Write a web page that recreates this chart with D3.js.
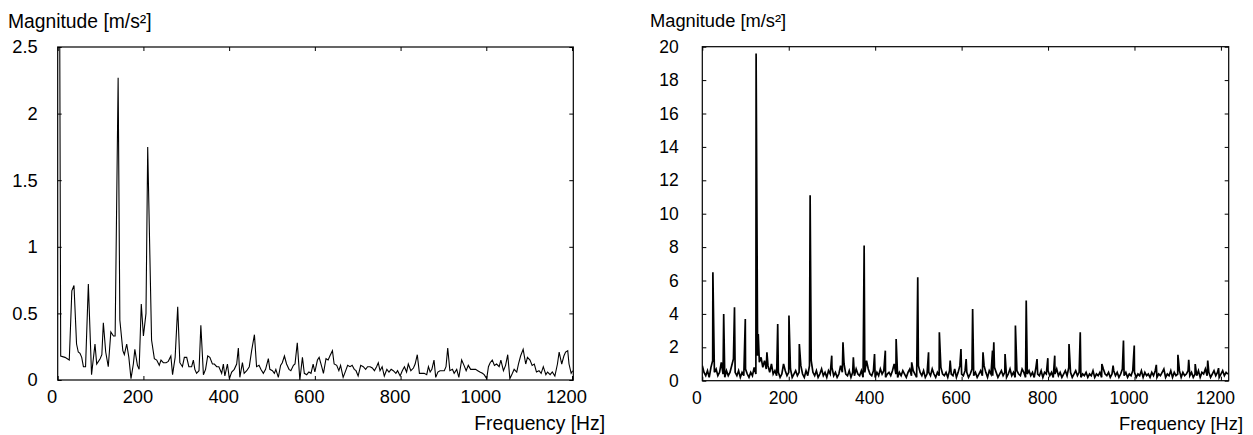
<!DOCTYPE html>
<html>
<head>
<meta charset="utf-8">
<script src="https://cdn.jsdelivr.net/npm/d3@7"></script>
<style>
  body { margin: 0; background: #fff; }
  svg { display: block; }
</style>
</head>
<body>
<div id="chart"></div>
<script>
// spectrum 1 (coarse, ~5 Hz steps): frequency [Hz] and magnitude [m/s²]
const leftFreq = [0, 4, 7, 17, 27, 33, 38, 44, 48, 52, 56, 60, 65, 71.5, 79, 87, 91, 99, 103, 106.5, 112, 118, 124, 130, 134, 141, 145, 152, 155.5, 161, 166, 171, 176.5, 180, 186, 190, 195, 200, 206, 210, 219, 225.5, 231, 237, 241, 246.5, 253, 258, 264, 268, 274, 280, 285, 291, 295.5, 301, 306, 312.5, 316.5, 320, 324, 329.7, 334, 340, 345, 350, 355, 361, 365.5, 371, 376, 382.6, 386.5, 390, 396, 400.5, 406, 412, 417.6, 421.5, 425, 431, 435, 441, 447, 452.5, 459, 464, 469.7, 474, 479.8, 485, 491.5, 495, 501, 505.5, 509, 514.8, 520, 524, 529, 534, 539.7, 544, 550, 553.7, 559, 565, 571, 575.4, 581, 586, 591, 596, 600, 606, 610, 616, 620, 626, 631, 635, 641, 645, 651, 656, 660, 666, 672, 676.5, 682, 687, 692, 696, 701, 707, 713, 718.5, 723, 729, 734, 739, 744, 748, 752, 757, 762, 768, 773, 778, 783, 789, 793, 799, 804, 809, 814, 818, 824, 830, 834, 839, 844, 849, 855, 861, 865, 869, 873, 878, 882, 887, 892, 897, 902, 906, 910, 915, 921, 925, 931, 936, 942.5, 948, 953, 958, 963.5, 970, 975, 980, 985, 991, 995, 1001, 1005, 1009, 1014, 1019, 1024, 1030, 1034, 1040, 1045, 1050, 1055, 1061, 1065, 1071, 1075, 1080, 1086, 1092, 1096, 1102, 1107, 1112, 1117, 1123, 1128, 1133, 1139, 1143, 1149, 1154, 1160, 1166, 1170, 1176, 1181, 1185, 1190, 1193, 1198, 1201.5];
const leftMag = [2.9, 3.4, 0.18, 0.17, 0.15, 0.67, 0.71, 0.27, 0.21, 0.2, 0.17, 0.1, 0.1, 0.72, 0.04, 0.27, 0.12, 0.16, 0.19, 0.43, 0.21, 0.1, 0.36, 0.33, 0.33, 2.27, 0.45, 0.22, 0.19, 0.27, 0.17, 0.01, 0.12, 0.23, 0.11, 0.08, 0.57, 0.33, 0.5, 1.75, 0.3, 0.16, 0.15, 0.11, 0.15, 0.13, 0.13, 0.14, 0.18, 0.04, 0.17, 0.55, 0.13, 0.1, 0.17, 0.17, 0.1, 0.1, 0.15, 0.08, 0.05, 0.07, 0.41, 0.04, 0.08, 0.18, 0.17, 0.12, 0.12, 0.1, 0.1, 0.05, 0.12, 0.03, 0.12, 0.01, 0.06, 0.08, 0.12, 0.24, 0.02, 0.13, 0.05, 0.07, 0.1, 0.22, 0.34, 0.1, 0.11, 0.08, 0.05, 0.08, 0.16, 0.08, 0.07, 0.05, 0.08, 0.02, 0.11, 0.13, 0.18, 0.12, 0.08, 0.07, 0.11, 0.12, 0.28, 0, 0.17, 0.05, 0.04, 0.06, 0.05, 0.12, 0.06, 0.15, 0.17, 0.1, 0.05, 0.16, 0.15, 0.18, 0.22, 0.12, 0.11, 0.07, 0.11, 0.02, 0.07, 0.11, 0.1, 0.11, 0.08, 0.07, 0.03, 0.11, 0.1, 0.08, 0.1, 0.1, 0.09, 0.07, 0.1, 0.13, 0.07, 0.1, 0.03, 0.08, 0.06, 0.08, 0.07, 0.05, 0.07, 0.03, 0.07, 0.1, 0.06, 0.12, 0.07, 0.09, 0.12, 0.19, 0.05, 0.05, 0.05, 0.04, 0.1, 0.06, 0.08, 0.15, 0.02, 0.06, 0.07, 0.07, 0.07, 0.1, 0.24, 0.07, 0.08, 0.05, 0.08, 0.02, 0.15, 0.11, 0.07, 0.11, 0.08, 0.08, 0.08, 0.07, 0.06, 0.05, 0.04, 0.01, 0.1, 0.13, 0.15, 0.11, 0.12, 0.1, 0.15, 0.07, 0.11, 0.19, 0.01, 0.05, 0.08, 0.06, 0.12, 0.18, 0.23, 0.12, 0.17, 0.15, 0.11, 0.12, 0.06, 0.07, 0.05, 0.1, 0.04, 0.06, 0.04, 0.06, 0.03, 0.12, 0.21, 0.12, 0.18, 0.21, 0.22, 0.12, 0.05, 0.07];

// spectrum 2 (fine): noise floor every 4 Hz from 0 Hz, plus the harmonic peaks
const rightFloorStep = 4;
const rightFloor = [
  0.9,0.5,0.3,0.6,0.2,0.8,1.2,0.5,0.7,0.3,0.5,1.1,0.4,0.2,0.6,0.3,0.5,0.9,1.3,0.5,
  0.3,0.6,0.2,0.5,0.3,0.7,0.4,0.2,0.5,0.3,0.8,0.4,1.5,1.1,1.4,0.8,1.2,0.7,0.9,0.5,
  1.0,0.4,0.6,0.3,0.5,0.2,0.4,1.0,0.6,0.3,0.5,0.7,0.2,0.4,0.6,0.3,0.5,0.9,0.4,0.2,
  0.6,0.3,0.9,1.2,0.5,0.3,0.6,0.2,0.4,0.7,0.3,0.5,0.2,0.6,0.4,0.8,0.3,0.5,0.2,0.4,
  0.9,0.5,1.0,0.4,0.3,0.6,0.2,0.5,0.3,0.7,0.4,0.3,0.6,0.2,0.5,1.2,0.7,0.4,0.3,0.6,
  0.2,0.5,0.3,0.7,0.4,0.6,0.2,0.4,0.5,0.3,0.6,1.0,0.4,0.2,0.5,0.3,0.6,0.4,0.2,0.5,
  0.7,0.3,0.6,0.4,0.2,0.9,0.5,0.3,0.6,0.2,0.4,0.5,0.3,0.7,0.4,0.2,0.5,0.3,0.8,0.4,
  0.3,0.5,0.2,0.6,0.4,0.3,0.7,0.2,0.5,0.9,0.4,0.3,0.6,0.5,0.2,0.4,0.7,0.3,0.5,0.2,
  0.4,0.6,0.3,0.9,0.5,0.2,0.6,0.4,0.3,0.8,0.5,0.2,0.4,0.6,0.3,0.5,0.2,0.4,0.7,0.3,
  0.5,0.2,0.6,0.4,0.3,0.7,0.5,0.2,0.4,0.6,0.3,0.5,0.2,0.8,0.4,0.3,0.6,0.2,0.5,0.4,
  0.6,0.3,0.5,0.2,0.4,0.7,0.3,0.5,0.2,0.4,0.6,0.3,0.8,0.5,0.2,0.4,0.6,0.3,0.5,0.2,
  0.4,0.3,0.5,0.2,0.4,0.3,0.6,0.2,0.4,0.3,0.5,0.2,0.7,0.4,0.3,0.5,0.2,0.4,0.6,0.3,
  0.5,0.2,0.4,0.7,0.3,0.5,0.2,0.4,0.3,0.6,0.5,0.2,0.4,0.3,0.6,0.2,0.5,0.3,0.4,0.2,
  0.5,0.3,0.6,0.2,0.4,0.3,0.5,0.7,0.2,0.4,0.3,0.6,0.2,0.5,0.3,0.4,0.6,0.2,0.5,0.3,
  0.4,0.6,0.3,0.5,0.2,0.4,0.3,0.6,0.2,0.5,0.4,0.7,0.3,0.5,0.2,0.4,0.6,0.3,0.5,0.2,
  0.4,0.6,0.3,0.5,0.4
];
const rightPeakFreq = [24.5, 49.5, 74.5, 99.5, 124.5, 129.5, 149.5, 174.5, 200.5, 224.5, 249.5, 299.5, 325.5, 349.5, 374.5, 398.5, 423.5, 448.5, 484.5, 498.5, 523.5, 548.5, 573.5, 598.5, 610.5, 625.5, 649.5, 671.5, 674.5, 700.5, 724.5, 749.5, 774.5, 799.5, 815.5, 848.5, 874.5, 924.5, 950.5, 974.5, 999.5, 1050.5, 1100.5, 1125.5, 1140.5, 1169.5, 1194.5];
const rightPeakMag = [6.5, 4.0, 4.4, 3.7, 19.6, 2.8, 1.7, 3.4, 3.9, 2.2, 11.1, 1.5, 2.3, 1.4, 8.1, 1.6, 1.8, 2.5, 1.1, 6.2, 1.7, 2.9, 1.2, 1.9, 1.3, 4.3, 1.7, 1.8, 2.3, 1.6, 3.3, 4.8, 1.3, 1.35, 1.5, 2.2, 2.9, 1.0, 0.9, 2.4, 2.1, 0.95, 1.55, 1.25, 1.0, 1.2, 0.75];

const xTicks = [0, 200, 400, 600, 800, 1000, 1200];
const leftYTicks = [0, 0.5, 1, 1.5, 2, 2.5];
const rightYTicks = [0, 2, 4, 6, 8, 10, 12, 14, 16, 18, 20];

const yTitle = "Magnitude [m/s²]";
const xTitle = "Frequency [Hz]";

const width = 1253, height = 435;
const font = "'Liberation Sans', Arial, Helvetica, sans-serif";
const fmt = d3.format("");

const svg = d3.select("#chart").append("svg")
  .attr("width", width)
  .attr("height", height);

// build point lists
const leftData = leftFreq.map((f, i) => ({ f, v: leftMag[i] }));

const rightMap = new Map();
rightFloor.forEach((v, i) => rightMap.set(i * rightFloorStep, v));
rightPeakFreq.forEach((f, i) => rightMap.set(f, rightPeakMag[i]));
const rightData = Array.from(rightMap, ([f, v]) => ({ f, v })).sort((a, b) => a.f - b.f);

function drawPanel(p) {
  const x = d3.scaleLinear().domain(p.xDomain).range([p.left, p.right]);
  const y = d3.scaleLinear().domain(p.yDomain).range([p.bottom, p.top]);

  const g = svg.append("g");

  // clip for the data line
  g.append("clipPath").attr("id", p.id + "-clip")
    .append("rect")
    .attr("x", p.left).attr("y", p.top)
    .attr("width", p.right - p.left).attr("height", p.bottom - p.top);

  const line = d3.line().x(d => x(d.f)).y(d => y(d.v));

  g.append("path")
    .datum(p.data)
    .attr("clip-path", `url(#${p.id}-clip)`)
    .attr("fill", "none")
    .attr("stroke", "#000")
    .attr("stroke-width", p.lineWidth)
    .attr("stroke-linejoin", "miter")
    .attr("d", line);

  // axes with inward ticks
  const styleAxis = sel => {
    sel.select(".domain").remove();
    sel.selectAll(".tick line").attr("stroke", "#000");
    sel.attr("font-family", font).attr("font-size", p.tickFont);
    sel.selectAll("text").attr("fill", "#000");
  };

  g.append("g")
    .attr("transform", `translate(0,${p.bottom})`)
    .call(d3.axisBottom(x).tickValues(xTicks).tickFormat(fmt).tickSize(-4).tickSizeOuter(0).tickPadding(p.xPad))
    .call(styleAxis)
    .selectAll("text").attr("dx", -6);

  g.append("g")
    .attr("transform", `translate(0,${p.top})`)
    .call(d3.axisTop(x).tickValues(xTicks).tickSize(-4).tickSizeOuter(0).tickFormat(""))
    .call(styleAxis);

  g.append("g")
    .attr("transform", `translate(${p.left},0)`)
    .call(d3.axisLeft(y).tickValues(p.yTicks).tickFormat(fmt).tickSize(-4).tickSizeOuter(0).tickPadding(p.yPad))
    .call(styleAxis);

  g.append("g")
    .attr("transform", `translate(${p.right},0)`)
    .call(d3.axisRight(y).tickValues(p.yTicks).tickSize(-4).tickSizeOuter(0).tickFormat(""))
    .call(styleAxis);

  // frame
  g.append("rect")
    .attr("x", p.left).attr("y", p.top)
    .attr("width", p.right - p.left).attr("height", p.bottom - p.top)
    .attr("fill", "none")
    .attr("stroke", "#000")
    .attr("stroke-width", 1.2);

  // titles
  g.append("text")
    .attr("x", p.yTitleX).attr("y", p.yTitleY)
    .attr("font-family", font).attr("font-size", p.titleFont)
    .text(yTitle);

  g.append("text")
    .attr("x", p.xTitleX).attr("y", p.xTitleY)
    .attr("text-anchor", "end")
    .attr("font-family", font).attr("font-size", p.titleFont)
    .text(xTitle);
}

drawPanel({
  id: "left", data: leftData,
  xDomain: [0, 1203], yDomain: [0, 2.5], yTicks: leftYTicks,
  left: 57.7, right: 573.3, top: 47, bottom: 380,
  lineWidth: 1.1, tickFont: 18.3, titleFont: 19.3,
  xPad: 10.5, yPad: 20,
  yTitleX: 8, yTitleY: 28, xTitleX: 605, xTitleY: 430
});

drawPanel({
  id: "right", data: rightData,
  xDomain: [0, 1218], yDomain: [0, 20], yTicks: rightYTicks,
  left: 702.3, right: 1228.7, top: 46.7, bottom: 380.7,
  lineWidth: 1.7, tickFont: 17.5, titleFont: 18.3,
  xPad: 10.9, yPad: 23.5,
  yTitleX: 650, yTitleY: 27, xTitleX: 1243, xTitleY: 430
});
</script>
</body>
</html>
